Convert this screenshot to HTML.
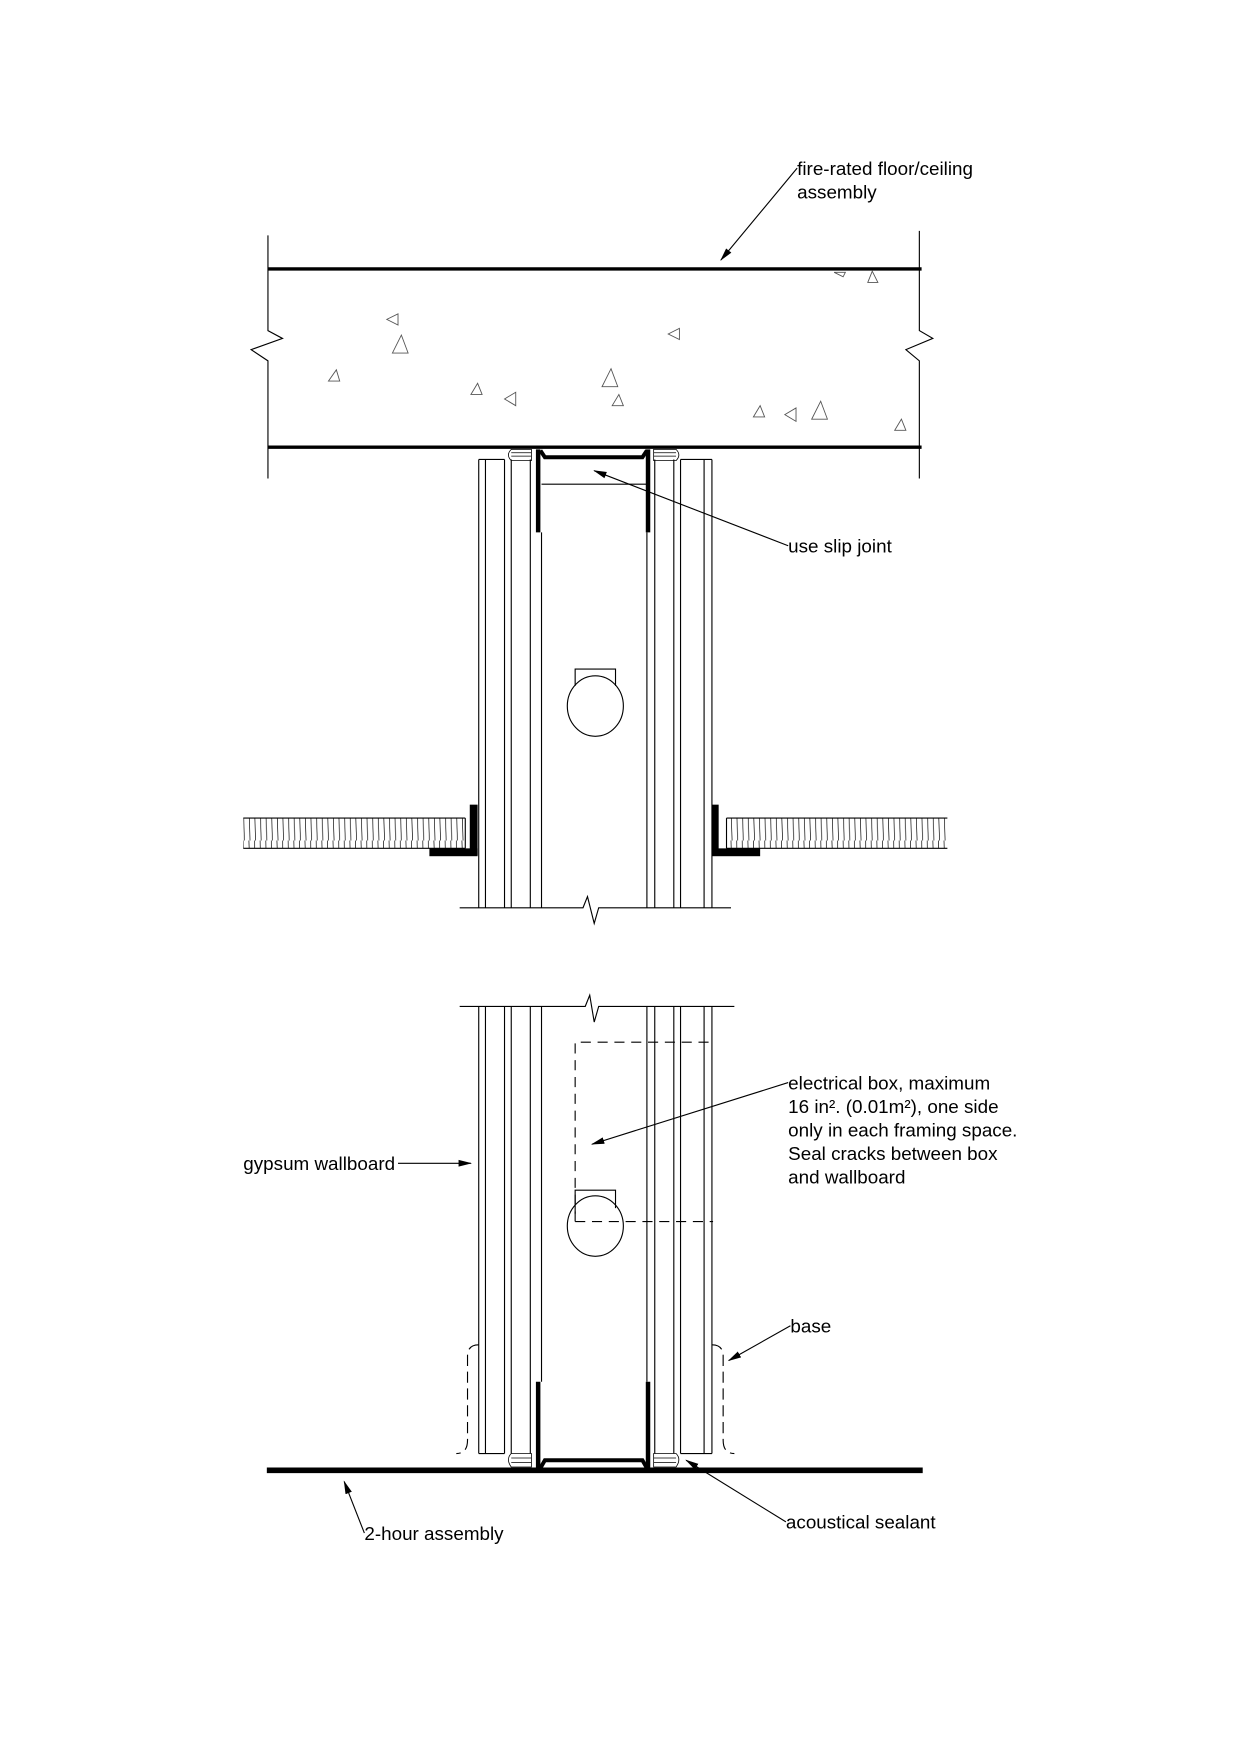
<!DOCTYPE html>
<html><head><meta charset="utf-8"><style>
html,body{margin:0;padding:0;background:#fff;}
svg{display:block;}
text{font-family:"Liberation Sans",sans-serif;font-size:16.8px;fill:#000;}
</style></head><body>
<svg width="1240" height="1755" viewBox="0 0 1106 1566" preserveAspectRatio="none" xmlns="http://www.w3.org/2000/svg">
<defs>
<marker id="ar" markerWidth="12" markerHeight="8" refX="11" refY="4" orient="auto" markerUnits="userSpaceOnUse"><path d="M0,1 L12,4 L0,7 Z" fill="#000"/></marker>
<pattern id="hatch" width="5" height="30" patternUnits="userSpaceOnUse"><line x1="2" y1="0" x2="3" y2="30" stroke="#000" stroke-width="0.6"/></pattern>
</defs>
<g fill="none" stroke="#000">
<line x1="239" y1="240" x2="822" y2="240" stroke-width="3"/>
<line x1="239" y1="399" x2="822" y2="399" stroke-width="3"/>
<polyline points="239,210 239,295 252,302 224,312 239,322 239,427" stroke-width="1"/>
<polyline points="820,206 820,295 832,302 808,312 820,322 820,427" stroke-width="1"/>
<g stroke-width="0.8" stroke="#555">
<path d="M345,285 l10,-5 l0,10z"/><path d="M350,315 l8,-16 l6,16z"/><path d="M293,340 l7,-10 l3,10z"/>
<path d="M420,352 l6,-10 l4,10z"/><path d="M450,356 l10,-6 l0,12z"/><path d="M537,345 l8,-16 l6,16z"/>
<path d="M546,362 l6,-10 l4,10z"/><path d="M596,298 l10,-5 l0,10z"/><path d="M672,372 l6,-10 l4,10z"/>
<path d="M700,370 l10,-6 l0,12z"/><path d="M724,374 l8,-16 l6,16z"/><path d="M798,384 l6,-10 l4,10z"/>
<path d="M744,243 l8,4 l2,-4z"/><path d="M774,252 l4,-10 l5,10z"/>
</g>
<g stroke-width="1">
<line x1="427" y1="410" x2="427" y2="810"/><line x1="433" y1="410" x2="433" y2="810"/>
<line x1="450" y1="410" x2="450" y2="810"/><line x1="456" y1="410" x2="456" y2="810"/>
<line x1="473" y1="410" x2="473" y2="810"/><line x1="483" y1="475" x2="483" y2="810"/>
<line x1="577" y1="475" x2="577" y2="810"/><line x1="584" y1="410" x2="584" y2="810"/>
<line x1="601" y1="410" x2="601" y2="810"/><line x1="607" y1="410" x2="607" y2="810"/>
<line x1="628" y1="410" x2="628" y2="810"/><line x1="635" y1="410" x2="635" y2="810"/>
<line x1="427" y1="410" x2="450" y2="410"/><line x1="607" y1="410" x2="635" y2="410"/>
<line x1="483" y1="432" x2="577" y2="432"/>
</g>
<line x1="480" y1="401" x2="480" y2="475" stroke-width="4"/>
<line x1="578" y1="401" x2="578" y2="475" stroke-width="4"/>
<path d="M482,402 L486,408 L573,408 L577,402" stroke-width="3.5"/>
<g stroke-width="0.7"><path d="M456,401 q-5,5 0,10 h18 v-10z"/><line x1="456" y1="404" x2="474" y2="404"/><line x1="456" y1="407" x2="474" y2="407"/>
<path d="M603,401 q5,5 0,10 h-20 v-10z"/><line x1="583" y1="404" x2="603" y2="404"/><line x1="583" y1="407" x2="603" y2="407"/></g>
<polyline points="410,810 520,810 524,800 530,824 534,810 652,810" stroke-width="1"/>
<path d="M513,612 V597 H549 V612" stroke-width="1"/>
<ellipse cx="531" cy="630" rx="25" ry="27" stroke-width="1"/>
<rect x="217" y="730" width="198" height="27" fill="url(#hatch)" stroke="none"/>
<line x1="217" y1="730" x2="415" y2="730"/><line x1="217" y1="757" x2="415" y2="757"/><line x1="415" y1="730" x2="415" y2="757"/>
<rect x="648" y="730" width="197" height="27" fill="url(#hatch)" stroke="none"/>
<line x1="648" y1="730" x2="845" y2="730"/><line x1="648" y1="757" x2="845" y2="757"/><line x1="648" y1="730" x2="648" y2="757"/>
</g>
<rect x="419" y="718" width="7" height="45" fill="#000"/><rect x="383" y="757" width="43" height="7" fill="#000"/>
<rect x="635" y="718" width="6" height="45" fill="#000"/><rect x="635" y="757" width="43" height="7" fill="#000"/>
<g fill="none" stroke="#000" stroke-width="1">
<polyline points="410,898 522,898 526,888 530,912 534,898 655,898"/>
<line x1="427" y1="898" x2="427" y2="1297"/><line x1="433" y1="898" x2="433" y2="1297"/>
<line x1="450" y1="898" x2="450" y2="1297"/><line x1="456" y1="898" x2="456" y2="1297"/>
<line x1="473" y1="898" x2="473" y2="1297"/><line x1="483" y1="898" x2="483" y2="1233"/>
<line x1="577" y1="898" x2="577" y2="1233"/><line x1="584" y1="898" x2="584" y2="1297"/>
<line x1="601" y1="898" x2="601" y2="1297"/><line x1="607" y1="898" x2="607" y2="1297"/>
<line x1="628" y1="898" x2="628" y2="1297"/><line x1="635" y1="898" x2="635" y2="1297"/>
<line x1="427" y1="1297" x2="450" y2="1297"/><line x1="607" y1="1297" x2="635" y2="1297"/>
<path d="M513,1090 V930 H636 M513,1090 H636" stroke-dasharray="9,6"/>
<path d="M513,1083 V1062 H549 V1078"/>
<ellipse cx="531" cy="1094" rx="25" ry="27"/>
<path d="M427,1200 q-10,0 -10,10 v75 q0,12 -10,12" stroke-dasharray="10,5"/>
<path d="M635,1200 q10,0 10,10 v75 q0,12 10,12" stroke-dasharray="10,5"/>
<g stroke-width="0.7"><path d="M456,1297 q-5,5 0,12 h18 v-12z"/><line x1="456" y1="1301" x2="474" y2="1301"/><line x1="456" y1="1305" x2="474" y2="1305"/>
<path d="M603,1297 q5,5 0,12 h-20 v-12z"/><line x1="583" y1="1301" x2="603" y2="1301"/><line x1="583" y1="1305" x2="603" y2="1305"/></g>
</g>
<line x1="480" y1="1233" x2="480" y2="1311" stroke="#000" stroke-width="4"/>
<line x1="578" y1="1233" x2="578" y2="1311" stroke="#000" stroke-width="4"/>
<path d="M482,1310 L486,1303 L573,1303 L577,1310" fill="none" stroke="#000" stroke-width="3.5"/>
<line x1="238" y1="1312" x2="823" y2="1312" stroke="#000" stroke-width="5"/>
<g stroke="#000" stroke-width="1" fill="none">
<line x1="711" y1="150" x2="643" y2="232" marker-end="url(#ar)"/>
<line x1="703" y1="487" x2="530" y2="420" marker-end="url(#ar)"/>
<line x1="703" y1="966" x2="528" y2="1021" marker-end="url(#ar)"/>
<line x1="355" y1="1038" x2="420" y2="1038" marker-end="url(#ar)"/>
<line x1="705" y1="1183" x2="650" y2="1214" marker-end="url(#ar)"/>
<line x1="701" y1="1358" x2="612" y2="1303" marker-end="url(#ar)"/>
<line x1="325" y1="1368" x2="307" y2="1322" marker-end="url(#ar)"/>
</g>
<text x="711" y="156">fire-rated floor/ceiling</text>
<text x="711" y="177">assembly</text>
<text x="703" y="493">use slip joint</text>
<text x="703" y="972">electrical box, maximum</text>
<text x="703" y="993">16 in². (0.01m²), one side</text>
<text x="703" y="1014">only in each framing space.</text>
<text x="703" y="1035">Seal cracks between box</text>
<text x="703" y="1056">and wallboard</text>
<text x="217" y="1044">gypsum wallboard</text>
<text x="705" y="1189">base</text>
<text x="701" y="1364">acoustical sealant</text>
<text x="325" y="1374">2-hour assembly</text>
</svg>
</body></html>
